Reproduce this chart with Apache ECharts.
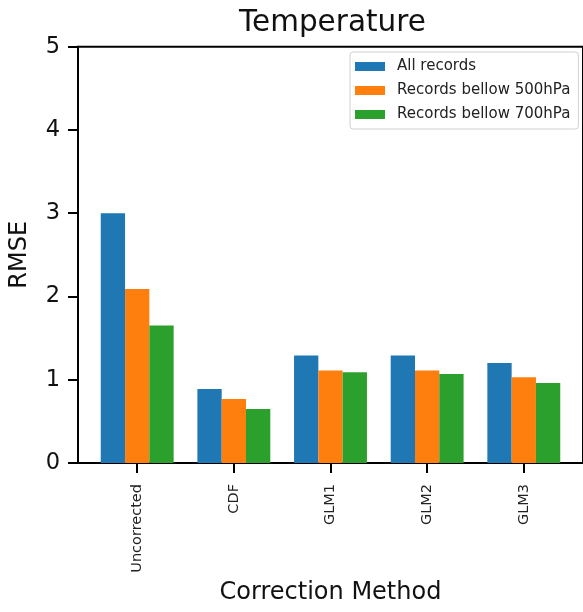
<!DOCTYPE html>
<html>
<head>
<meta charset="utf-8">
<script src="https://cdn.jsdelivr.net/npm/echarts@6/dist/echarts.min.js"></script>
<style>
  html, body { margin: 0; padding: 0; background: #fff; }
  #chart { width: 583px; height: 612px; }
</style>
</head>
<body>
<div id="chart"></div>
<script>
// data
const categories = ['Uncorrected', 'CDF', 'GLM1', 'GLM2', 'GLM3'];
const seriesNames = ['All records', 'Records bellow 500hPa', 'Records bellow 700hPa'];
const allRecords = [3.0, 0.89, 1.29, 1.29, 1.20];
const below500 = [2.09, 0.77, 1.11, 1.11, 1.03];
const below700 = [1.65, 0.65, 1.09, 1.07, 0.96];
const yTicks = [0, 1, 2, 3, 4, 5];

const colors = ['#1f77b4', '#ff7f0e', '#2ca02c'];
const font = 'DejaVu Sans';
const tickIdx = categories.map((c, i) => i);

const chart = echarts.init(document.getElementById('chart'));

function barSeries(name, values, color) {
    return {
        name: name,
        type: 'bar',
        barWidth: 24.3,
        barGap: '0%',
        itemStyle: { color: color },
        data: values.map((v, i) => [i, v])
    };
}

chart.setOption({
    animation: false,
    title: {
        text: 'Temperature',
        left: 234,
        top: 3,
        textStyle: { fontFamily: font, fontSize: 29.5, fontWeight: 'normal', color: '#111' }
    },
    legend: {
        orient: 'vertical',
        left: 350,
        top: 52,
        padding: [7, 8, 7, 5],
        itemWidth: 30,
        itemHeight: 9,
        itemGap: 9,
        icon: 'rect',
        backgroundColor: '#fff',
        borderColor: '#d0d0d0',
        borderWidth: 1,
        borderRadius: 3,
        textStyle: { fontFamily: font, fontSize: 15, color: '#222', lineHeight: 14, padding: [0, 0, 0, 7] },
        data: seriesNames
    },
    grid: {
        left: 78,
        top: 46.7,
        right: -3.4,
        bottom: 149,
        show: true,
        borderColor: '#000',
        borderWidth: 2,
        backgroundColor: 'transparent'
    },
    xAxis: {
        type: 'value',
        min: -0.6125,
        max: 4.6125,
        name: 'Correction Method',
        nameLocation: 'middle',
        nameGap: 116,
        nameTextStyle: { fontFamily: font, fontSize: 24, color: '#111' },
        axisLine: { show: true, onZero: false, lineStyle: { color: '#000', width: 2 } },
        axisTick: { show: true, length: 10, lineStyle: { color: '#000', width: 2 }, customValues: tickIdx },
        axisLabel: {
            rotate: 90,
            margin: 21,
            fontFamily: font,
            fontSize: 14.5,
            color: '#222',
            customValues: tickIdx,
            formatter: v => categories[v]
        },
        splitLine: { show: false }
    },
    yAxis: {
        type: 'value',
        min: 0,
        max: 5,
        interval: 1,
        name: 'RMSE',
        nameLocation: 'middle',
        nameGap: 46,
        nameTextStyle: { fontFamily: font, fontSize: 24, color: '#111' },
        axisLine: { show: true, onZero: false, lineStyle: { color: '#000', width: 2 } },
        axisTick: { show: true, length: 10, lineStyle: { color: '#000', width: 2 } },
        axisLabel: {
            margin: 18,
            fontFamily: font,
            fontSize: 22.5,
            color: '#111',
            formatter: v => yTicks.includes(v) ? String(v) : ''
        },
        splitLine: { show: false }
    },
    series: [
        barSeries(seriesNames[0], allRecords, colors[0]),
        barSeries(seriesNames[1], below500, colors[1]),
        barSeries(seriesNames[2], below700, colors[2])
    ]
});
</script>
</body>
</html>
